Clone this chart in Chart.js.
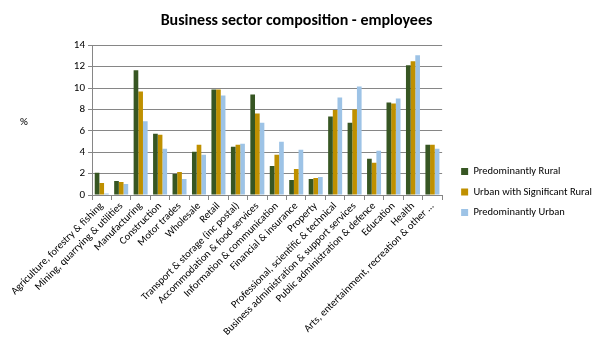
<!DOCTYPE html>
<html>
<head>
<meta charset="utf-8">
<script src="https://cdn.jsdelivr.net/npm/chart.js@4.4.1/dist/chart.umd.min.js"></script>
<style>
  html, body { margin: 0; padding: 0; background: #fff; }
  #wrap { width: 605px; height: 352px; }
</style>
</head>
<body>
<div id="wrap"><canvas id="chart" width="605" height="352"></canvas></div>
<script>
// categories + series
var sectors = [
  "Agriculture, forestry & fishing",
  "Mining, quarrying & utilities",
  "Manufacturing",
  "Construction",
  "Motor trades",
  "Wholesale",
  "Retail",
  "Transport & storage (inc postal)",
  "Accommodation & food services",
  "Information & communication",
  "Financial & insurance",
  "Property",
  "Professional, scientific & technical",
  "Business administration & support services",
  "Public administration & defence",
  "Education",
  "Health",
  "Arts, entertainment, recreation & other ..."
];
var rural      = [2.07, 1.32, 11.65, 5.73, 1.97, 4.04, 9.87, 4.51, 9.40, 2.72, 1.41, 1.50, 7.33, 6.76, 3.38, 8.64, 12.12, 4.70];
var urbanRural = [1.13, 1.22, 9.68, 5.64, 2.16, 4.70, 9.87, 4.70, 7.61, 3.76, 2.44, 1.60, 7.95, 7.99, 3.01, 8.55, 12.50, 4.70];
var urban      = [0.13, 1.03, 6.89, 4.32, 1.50, 3.76, 9.30, 4.79, 6.76, 4.98, 4.23, 1.69, 9.11, 10.15, 4.13, 9.02, 13.06, 4.32];
var yTicks = [0, 2, 4, 6, 8, 10, 12, 14];

var FONT = "Carlito, Lato, 'Liberation Sans', sans-serif";
Chart.defaults.font.family = FONT;
Chart.defaults.color = '#000';

// "%" label, horizontal, left of the axis
var pctLabel = {
  id: 'pctLabel',
  afterLayout: function(chart){
    // excel leaves a gap between plot and legend, and sits it a bit lower
    chart.legend.left += 9;
    chart.legend.right += 9;
    chart.legend.top += 16;
    chart.legend.bottom += 16;
  },
  afterDraw: function(chart){
    var ctx = chart.ctx, a = chart.chartArea;
    ctx.save();
    ctx.font = '11px ' + FONT;
    ctx.fillStyle = '#000';
    ctx.textAlign = 'center';
    ctx.textBaseline = 'middle';
    ctx.fillText('%', a.left - 68, (a.top + a.bottom) / 2 + 2);
    ctx.restore();
  }
};

var ctx = document.getElementById('chart').getContext('2d');
var myChart = new Chart(ctx, {
  type: 'bar',
  data: {
    labels: sectors,
    datasets: [
      { label: 'Predominantly Rural', data: rural, backgroundColor: '#375623' },
      { label: 'Urban with Significant Rural', data: urbanRural, backgroundColor: '#BF9000' },
      { label: 'Predominantly Urban', data: urban, backgroundColor: '#9DC3E6' }
    ]
  },
  options: {
    responsive: false,
    animation: false,
    layout: { padding: { left: 0, right: 12, top: 0, bottom: 0 } },
    datasets: { bar: { categoryPercentage: 0.72, barPercentage: 1.0 } },
    plugins: {
      title: {
        display: true,
        text: 'Business sector composition - employees',
        font: { size: 16, weight: 'bold' },
        color: '#000',
        padding: { top: 11, bottom: 15 }
      },
      legend: {
        position: 'right',
        maxWidth: 180,
        labels: { boxWidth: 7, boxHeight: 7, padding: 10, font: { size: 10.5 } }
      },
      tooltip: { enabled: false }
    },
    scales: {
      x: {
        grid: { display: true, drawOnChartArea: false, color: '#868686', tickLength: 5, offset: true },
        border: { color: '#868686' },
        ticks: { minRotation: 45, maxRotation: 45, autoSkip: false, font: { size: 10.5 }, padding: 0 },
        afterFit: function(scale){ scale.height = 157; }
      },
      y: {
        min: 0, max: 14,
        afterBuildTicks: function(axis){ axis.ticks = yTicks.map(function(v){ return { value: v }; }); },
        grid: { color: '#868686', tickLength: 4, lineWidth: 1 },
        border: { color: '#868686' },
        ticks: { font: { size: 11 }, padding: 3 },
        afterFit: function(scale){ scale.width = 92; }
      }
    }
  },
  plugins: [pctLabel]
});
</script>
</body>
</html>
